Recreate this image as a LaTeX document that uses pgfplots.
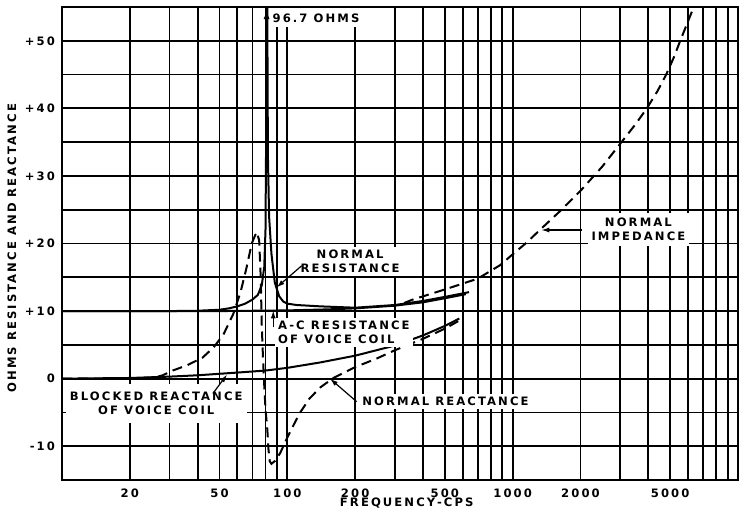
\documentclass[border=0pt]{standalone}
\usepackage{fontspec}
\setmainfont{DejaVu Sans}[LetterSpace=18]
\usepackage{pgfplots}
\pgfplotsset{compat=1.18}
\usetikzlibrary{arrows.meta}
\newcommand\lab{\fontsize{5.8}{7}\selectfont\bfseries}

\begin{document}
\begin{tikzpicture}
\useasboundingbox (-31pt,-15.5pt) rectangle (338.5pt,240pt);
\begin{axis}[scale only axis, width=338pt, height=236.5pt,
  xmode=log, xmin=10, xmax=10000, ymin=-15, ymax=55,
  xtick={20,50,100,200,500,1000,2000,5000},
  xticklabels={20,50,100,200,500,1000,2000,5000},
  minor xtick={30,40,60,70,80,90,300,400,600,700,800,900,3000,4000,6000,7000,8000,9000},
  ytick={-10,0,10,20,30,40,50},
  yticklabels={-10,0,+10,+20,+30,+40,+50},
  minor ytick={-5,5,15,25,35,45},
  xmajorgrids, ymajorgrids, xminorgrids, yminorgrids,
  major grid style={black, line width=0.9pt}, minor grid style={black, line width=0.9pt},
  major tick length=0pt, minor tick length=0pt,
  axis line style={line width=1.1pt},
  ticklabel style={font=\lab}, label style={font=\lab},
  xticklabel style={yshift=-1pt},
  xlabel={FREQUENCY\,-\,CPS}, ylabel={OHMS RESISTANCE AND REACTANCE},
  xlabel style={at={(axis description cs:0.51,-0.049)}, anchor=center},
  ylabel style={at={(axis description cs:-0.074,0.49)}, anchor=center}]

% normal resistance
\addplot[line width=1pt] coordinates {(10,10) (20,10) (30,10) (40,10.05) (50,10.2) (55,10.4) (60,10.7)
  (65,11.1) (70,11.7) (74,12.4) (77,13.8) (79,16.5) (80,22) (80.5,35) (81,96.7) (81.6,50) (82,33)
  (83,24) (85,18.5) (88,14.2) (92,12.2) (96,11.4) (100,11.1) (110,10.9) (140,10.7) (200,10.5)
  (300,10.9) (400,11.5) (500,12.1) (640,12.8)};
% a-c resistance of voice coil
\addplot[line width=1pt] coordinates {(10,10) (50,10) (100,10.1) (150,10.25) (200,10.4) (300,10.8)
  (400,11.3) (500,11.9) (620,12.5)};
% blocked reactance of voice coil
\addplot[line width=1pt] coordinates {(10,0) (20,0.1) (30,0.3) (40,0.5) (60,0.9) (80,1.2) (100,1.6)
  (140,2.4) (200,3.4) (300,4.9) (400,6.4) (500,7.8) (580,8.9)};
% normal reactance
\addplot[line width=1pt, dash pattern=on 5pt off 3pt] coordinates {(10,0) (20,0) (26,0.2) (28,0.5)
  (31,1.2) (36,2.0) (42,3.1) (47,4.6) (52,6.5) (57.6,9.6) (62,12.8) (66,16.5) (69.5,20) (73,21.7)
  (75,20.5) (76.2,15) (77,8) (78,3) (79,-1) (80,-4.5) (81.5,-7.5) (82.5,-10.5) (83.5,-12.2)
  (85,-12.6) (88,-12.2) (93,-11) (100,-8.7) (113,-5.2) (125,-3) (140,-1.3) (160,0.1) (200,1.7)
  (250,3) (300,4.2) (400,5.9) (500,7.4) (580,8.6)};
% normal impedance
\addplot[line width=1pt, dash pattern=on 5pt off 3pt] coordinates {(330,11.2) (360,11.7) (500,13.2)
  (700,14.8) (880,16.8) (1000,18.4) (1150,20.1) (1320,22) (1600,24.6) (2000,27.8) (2500,31.4)
  (3040,35) (3500,37.6) (3940,40) (4400,42.6) (4800,45) (5200,47.6) (5540,50) (6240,54.3)};

\draw[line width=1pt, -{Latex[length=5pt,width=3pt]}] (axis cs:80.9,48) -- (axis cs:80.9,54.7);
\node[fill=white, anchor=west, inner xsep=1pt, inner ysep=2.5pt, font=\lab] at (axis cs:84,53.4) {96.7 OHMS};

\node[fill=white, align=center, inner sep=1.5pt, font=\lab] at (axis cs:190,17.3) {NORMAL\\RESISTANCE};
\draw[line width=0.6pt, -{Latex[length=4pt,width=2.5pt]}] (axis cs:115.7,16.7) -- (axis cs:89.6,13.5);

\node[fill=white, align=left, anchor=west, inner sep=1.5pt, font=\lab] at (axis cs:88,6.8) {A-C RESISTANCE\\OF VOICE COIL};
\draw[line width=0.6pt, -{Latex[length=4pt,width=2.5pt]}] (axis cs:86.6,7.6) -- (axis cs:86.6,10.1);

\node[fill=white, align=center, inner xsep=2pt, inner ysep=4pt, font=\lab] at (axis cs:26.2,-3.7) {BLOCKED REACTANCE\\OF VOICE COIL};
\draw[line width=0.6pt, -{Latex[length=4pt,width=2.5pt]}] (axis cs:46.7,-2.2) -- (axis cs:54,0.6);

\node[fill=white, anchor=west, inner sep=1.5pt, font=\lab] at (axis cs:208,-3.4) {NORMAL REACTANCE};
\draw[line width=0.6pt, -{Latex[length=4pt,width=2.5pt]}] (axis cs:203,-3.4) -- (axis cs:154.7,0);

\node[fill=white, align=center, inner xsep=2pt, inner ysep=2.5pt, font=\lab] at (axis cs:3615,22.1) {NORMAL\\IMPEDANCE};
\draw[line width=0.6pt, -{Latex[length=4pt,width=2.5pt]}] (axis cs:2028,22) -- (axis cs:1340,22);
\end{axis}
\end{tikzpicture}
\end{document}
